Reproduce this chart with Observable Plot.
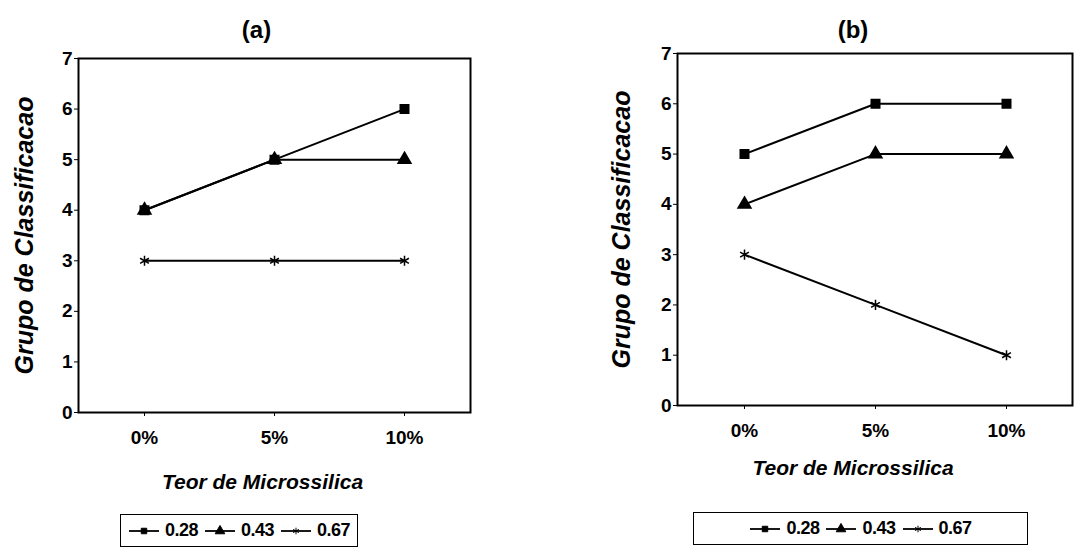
<!DOCTYPE html>
<html>
<head>
<meta charset="utf-8">
<script src="https://cdn.jsdelivr.net/npm/d3@7"></script>
<script src="https://cdn.jsdelivr.net/npm/@observablehq/plot@0.6"></script>
<style>
  html, body { margin: 0; padding: 0; background: #fff; }
  body { width: 1075px; height: 551px; position: relative; overflow: hidden; font-family: "Liberation Sans", Arial, sans-serif; }
  .panel { position: absolute; top: 0; }
  .legend { position: absolute; border: 1.6px solid #000; box-sizing: border-box; display: flex; align-items: center; justify-content: center; gap: 6px; font-weight: bold; font-size: 18px; letter-spacing: -0.5px; }
  .legend .item { display: flex; align-items: center; gap: 5px; }
</style>
</head>
<body>
<div id="pa" class="panel" style="left:0px"></div>
<div id="pb" class="panel" style="left:540px"></div>
<div id="la" class="legend" style="left:120px; top:514px; width:238px; height:33px"></div>
<div id="lb" class="legend" style="left:693px; top:512px; width:335px; height:33px"></div>
<script>
// ---- data ----
const categories = ["0%", "5%", "10%"];
const seriesNames = ["0.28", "0.43", "0.67"];
const a_028 = [4, 5, 6];
const a_043 = [4, 5, 5];
const a_067 = [3, 3, 3];
const b_028 = [5, 6, 6];
const b_043 = [4, 5, 5];
const b_067 = [3, 2, 1];
const yTicks = [0, 1, 2, 3, 4, 5, 6, 7];
const panelTitles = ["(a)", "(b)"];
const xTitle = "Teor de Microssilica";
const yTitle = "Grupo de Classificacao";
const symbols = ["square", "triangle", "asterisk"];

function rows(arrs) {
  const out = [];
  arrs.forEach((vals, si) => vals.forEach((v, ci) => out.push({x: categories[ci], y: v, series: seriesNames[si]})));
  return out;
}

function panel(data, title, m, o, width) {
  return Plot.plot({
    width: width, height: 500,
    marginLeft: m.left, marginRight: m.right, marginTop: m.top, marginBottom: 500 - m.bottom,
    style: {fontFamily: "'Liberation Sans', Arial, sans-serif", fontWeight: "bold", color: "black", background: "white", overflow: "visible"},
    x: {type: "point", domain: categories, padding: 0.5},
    y: {domain: [0, 7], ticks: yTicks},
    symbol: {domain: seriesNames, range: symbols},
    marks: [
      Plot.frame({stroke: "black", strokeWidth: 2}),
      Plot.axisY({ticks: yTicks, tickSize: 4, tickPadding: 2, fontSize: 19, fontWeight: "bold", label: null, tickFormat: d3.format("d")}),
      Plot.axisX({tickSize: 4, tickPadding: 14, fontSize: 19, fontWeight: "bold", label: null}),
      Plot.line(data, {x: "x", y: "y", z: "series", stroke: "black", strokeWidth: 2}),
      Plot.dot(data, {x: "x", y: "y", symbol: "series", fill: "black", stroke: "black", strokeWidth: 1.5, r: 4.8}),
      Plot.text([title], {frameAnchor: "top", dx: o.titleDx, dy: o.titleDy, fontSize: 24, fontWeight: "bold", lineAnchor: "middle"}),
      Plot.text([xTitle], {frameAnchor: "bottom", dx: o.xTitleDx, dy: o.xTitleDy, fontSize: 21, fontStyle: "italic", fontWeight: "bold", lineAnchor: "middle", textAnchor: "middle"}),
      Plot.text([yTitle], {frameAnchor: "left", dx: o.yTitleDx, rotate: -90, fontSize: 25, fontStyle: "italic", fontWeight: "bold", lineAnchor: "middle", textAnchor: "middle"})
    ]
  });
}

document.getElementById("pa").appendChild(
  panel(rows([a_028, a_043, a_067]), panelTitles[0], {left: 78, right: 537 - 470, top: 58, bottom: 412},
    {titleDx: -18, titleDy: -28, xTitleDx: -12, xTitleDy: 70, yTitleDx: -54}, 537)
);
document.getElementById("pb").appendChild(
  panel(rows([b_028, b_043, b_067]), panelTitles[1], {left: 137, right: 3, top: 53, bottom: 405},
    {titleDx: -22, titleDy: -23, xTitleDx: -22, xTitleDy: 63, yTitleDx: -56}, 535)
);

// legends
function legend(id) {
  const el = document.getElementById(id);
  seriesNames.forEach((name, i) => {
    const item = document.createElement("div");
    item.className = "item";
    const sym = d3.symbol(i === 0 ? d3.symbolSquare : i === 1 ? d3.symbolTriangle : d3.symbolAsterisk, i === 1 ? 40 : 30)();
    item.innerHTML = `<svg width="32" height="14" viewBox="-16 -7 32 14"><line x1="-15" x2="15" y1="0" y2="0" stroke="black" stroke-width="1.8"/><path d="${sym}" fill="black" stroke="black" stroke-width="1"/></svg><span>${name}</span>`;
    el.appendChild(item);
  });
}
legend("la");
legend("lb");
</script>
</body>
</html>
